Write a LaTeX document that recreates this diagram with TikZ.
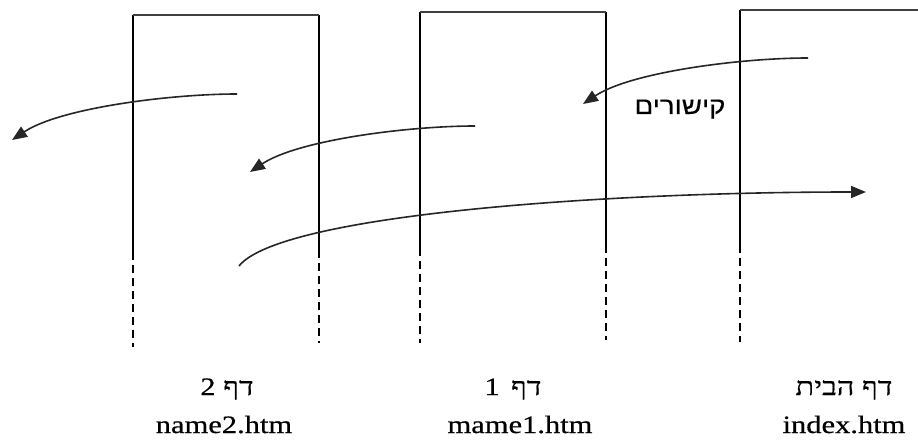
\documentclass[tikz,border=0pt]{standalone}
\usepackage{fontspec}
\setmainfont[FakeStretch=1.22,FakeBold=0.6]{Liberation Serif}
\newfontfamily\heb[Script=Hebrew,FakeStretch=1.22,FakeBold=0.6]{Liberation Serif}
\newfontfamily\hebsans[Script=Hebrew,FakeStretch=1.15,FakeBold=0.4]{Liberation Sans}
\usetikzlibrary{arrows.meta}
\TeXXeTstate=1
\begin{document}
\begin{tikzpicture}[x=1pt,y=1pt,
  wall/.style={line width=1.6pt},
  topline/.style={line width=2.6pt, draw=black!75},
  dashwall/.style={line width=1.6pt, dash pattern=on 8pt off 5pt},
  link/.style={line width=1.6pt, draw=black!85, -{Triangle[length=15pt,width=12pt]}},
  lbl/.style={font=\fontsize{25}{30}\selectfont, anchor=base, inner sep=0pt}]
\useasboundingbox (0,0) rectangle (918,442);
% page 2 frame
\coordinate (b1tl) at (133,427); \coordinate (b1tr) at (319,427);
\coordinate (b1ls) at (133,190); \coordinate (b1le) at (133,95);
\coordinate (b1rs) at (319,192); \coordinate (b1re) at (319,99);
% page 1 frame
\coordinate (b2tl) at (420,430); \coordinate (b2tr) at (606,430);
\coordinate (b2ls) at (420,194); \coordinate (b2le) at (420,99);
\coordinate (b2rs) at (606,197); \coordinate (b2re) at (606,102);
% home page frame
\coordinate (b3tl) at (740,432); \coordinate (b3tr) at (918,432);
\coordinate (b3ls) at (740,197); \coordinate (b3le) at (740,100);

\draw[wall] (b1ls) -- (b1tl); \draw[wall] (b1rs) -- (b1tr);
\draw[topline] (b1tl) -- (b1tr);
\draw[dashwall] (b1ls) -- (b1le); \draw[dashwall] (b1rs) -- (b1re);

\draw[wall] (b2ls) -- (b2tl); \draw[wall] (b2rs) -- (b2tr);
\draw[topline] (b2tl) -- (b2tr);
\draw[dashwall] (b2ls) -- (b2le); \draw[dashwall] (b2rs) -- (b2re);

\draw[wall] (b3ls) -- (b3tl);
\draw[topline] (b3tl) -- (b3tr);
\draw[dashwall] (b3ls) -- (b3le);

% links
\coordinate (a1s) at (237,348); \coordinate (a1e) at (12,302);
\coordinate (a2s) at (475,316); \coordinate (a2e) at (250,270);
\coordinate (a3s) at (808,384); \coordinate (a3e) at (583,338);
\coordinate (a4s) at (239,176); \coordinate (a4e) at (866,250);
\draw[link] (a1s) .. controls (170,348) and (60,334) .. (a1e);
\draw[link] (a2s) .. controls (408,316) and (298,302) .. (a2e);
\draw[link] (a3s) .. controls (741,384) and (631,370) .. (a3e);
\draw[link] (a4s) .. controls (280,227) and (600,250) .. (a4e);

\node[lbl, font=\fontsize{24}{28}\selectfont] (links) at (680,328) {\hebsans\beginR קישורים\endR};

\node[lbl] (h2) at (227,47) {\heb\beginR דף 2\endR};
\node[lbl] (f2) at (224,9) {name2.htm};
\node[lbl] (h1) at (513,47) {\heb\beginR דף\hspace{0.45em}1\endR};
\node[lbl] (f1) at (520,9) {mame1.htm};
\node[lbl] (h0) at (844,47) {\heb\beginR דף הבית\endR};
\node[lbl] (f0) at (844,9) {index.htm};
\end{tikzpicture}
\end{document}
